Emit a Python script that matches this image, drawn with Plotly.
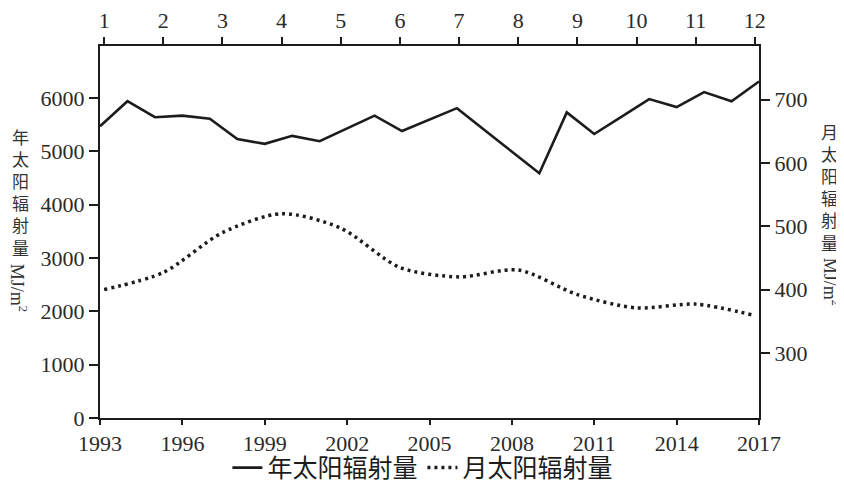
import plotly.graph_objects as go

# ---- data ----
years = list(range(1993, 2018))
annual_radiation = [5470, 5940, 5640, 5670, 5610, 5230, 5140, 5290, 5190, 5430,
                    5670, 5380, 5600, 5810, 5400, 4990, 4590, 5730, 5325, 5650,
                    5980, 5830, 6110, 5940, 6310]
months = list(range(1, 13))
monthly_radiation = [400, 427, 490, 520, 497, 435, 420, 431, 392, 371, 377, 359]

year_ticks = list(range(1993, 2018, 3))
left_ticks = [0, 1000, 2000, 3000, 4000, 5000, 6000]
right_ticks = [300, 400, 500, 600, 700]

INK = "#1c1c1c"
SERIF = "Liberation Serif, Times New Roman, serif"
CJK = "Noto Sans CJK SC, sans-serif"

fig = go.Figure()
fig.add_trace(go.Scatter(
    x=years, y=annual_radiation, name="年太阳辐射量", mode="lines",
    line=dict(color=INK, width=2.6), xaxis="x", yaxis="y"))
fig.add_trace(go.Scatter(
    x=months, y=monthly_radiation, name="月太阳辐射量", mode="lines",
    line=dict(color=INK, width=3.5, dash="3px,4px", shape="spline", smoothing=0.8),
    xaxis="x2", yaxis="y2"))

axis_common = dict(showline=True, linecolor=INK, linewidth=2, showgrid=False,
                   zeroline=False, ticks="outside", tickcolor=INK, tickwidth=2,
                   automargin=False,
                   tickfont=dict(family=SERIF, size=22, color="#2a2a2a"))

# page body has an 8px margin, so the figure is 8px smaller than the window
fig.update_layout(
    width=836, height=478,
    margin=dict(l=92, r=85, t=38, b=68),
    paper_bgcolor="white", plot_bgcolor="white",
    xaxis=dict(range=[1993, 2017], tickvals=year_ticks, ticklen=5, **axis_common),
    xaxis2=dict(range=[0.93, 12.07], tickvals=months, ticklen=7, overlaying="x",
                side="top", anchor="y", **axis_common),
    yaxis=dict(range=[0, 6975], tickvals=left_ticks, ticklen=9, **axis_common),
    yaxis2=dict(range=[197, 785], tickvals=right_ticks, ticklen=9, overlaying="y",
                side="right", anchor="x", **axis_common),
    showlegend=True,
    legend=dict(orientation="h", xref="paper", x=0.49, xanchor="center",
                yref="container", y=0.038, yanchor="middle",
                font=dict(family=CJK, size=25, color=INK), bgcolor="rgba(0,0,0,0)"),
)

vt = dict(xref="paper", yref="paper", showarrow=False, xanchor="center", yanchor="middle")
fig.add_annotation(text="年<br>太<br>阳<br>辐<br>射<br>量", x=-0.1199, y=0.6075,
                   font=dict(family=CJK, size=17, color="#333"), **vt)
fig.add_annotation(text="MJ/m<sup>2</sup>", x=-0.1237, y=0.349, textangle=90,
                   font=dict(family=SERIF, size=18, color="#333"), **vt)
fig.add_annotation(text="月<br>太<br>阳<br>辐<br>射<br>量", x=1.1077, y=0.621,
                   font=dict(family=CJK, size=17, color="#333"), **vt)
fig.add_annotation(text="MJ/m<sup>2</sup>", x=1.1093, y=0.366, textangle=90,
                   font=dict(family=SERIF, size=18, color="#333"), **vt)

fig.write_html("out.html")
